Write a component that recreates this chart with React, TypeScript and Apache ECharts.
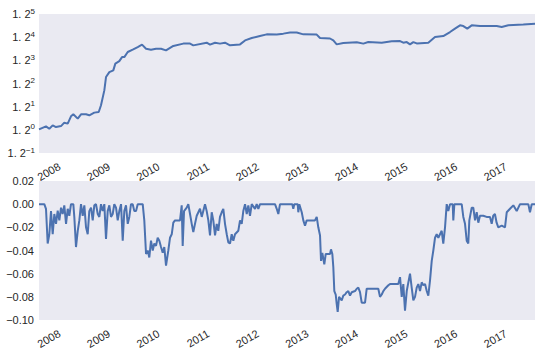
import React, { useEffect, useRef } from 'react';
import * as echarts from 'echarts';

// x values are decimal years
const X_MIN = 2007.536;
const X_MAX = 2017.536;
const yearTicks = [2008, 2009, 2010, 2011, 2012, 2013, 2014, 2015, 2016, 2017];

// cumulative growth of 1 (plotted on a base-1.2 log scale)
const LOG_BASE = 1.2;
const cumExponentTicks = [-1, 0, 1, 2, 3, 4, 5];
const cumulativePoints: [number, number][] = [
  [2007.536, 1.004], [2007.677, 1.028], [2007.744, 1.009], [2007.812, 1.036], [2007.879, 1.022],
  [2007.98, 1.03], [2008.046, 1.058], [2008.115, 1.05], [2008.181, 1.112], [2008.228, 1.13],
  [2008.317, 1.092], [2008.383, 1.13], [2008.484, 1.13], [2008.55, 1.121], [2008.651, 1.145],
  [2008.74, 1.151], [2008.786, 1.213], [2008.853, 1.364], [2008.887, 1.515], [2008.954, 1.575],
  [2009.034, 1.597], [2009.075, 1.684], [2009.155, 1.718], [2009.21, 1.773], [2009.256, 1.773],
  [2009.325, 1.845], [2009.425, 1.879], [2009.526, 1.918], [2009.613, 1.955], [2009.694, 1.893],
  [2009.794, 1.879], [2009.895, 1.893], [2009.996, 1.893], [2010.097, 1.869], [2010.244, 1.935],
  [2010.446, 1.971], [2010.581, 1.971], [2010.647, 1.944], [2010.917, 1.985], [2010.984, 1.955],
  [2011.085, 1.985], [2011.185, 1.971], [2011.286, 1.985], [2011.387, 1.944], [2011.589, 1.959],
  [2011.69, 2.021], [2011.825, 2.059], [2011.99, 2.092], [2012.127, 2.12], [2012.329, 2.116],
  [2012.462, 2.132], [2012.597, 2.151], [2012.732, 2.151], [2012.865, 2.12], [2013.135, 2.116],
  [2013.202, 2.059], [2013.403, 2.052], [2013.47, 2.021], [2013.538, 1.959], [2013.671, 1.981],
  [2013.942, 1.992], [2014.075, 1.971], [2014.175, 1.995], [2014.446, 1.985], [2014.647, 2.007],
  [2014.815, 2.011], [2014.881, 1.985], [2014.95, 1.995], [2015.016, 1.959], [2015.083, 1.995],
  [2015.151, 1.974], [2015.385, 1.985], [2015.52, 2.077], [2015.687, 2.092], [2015.823, 2.159],
  [2015.923, 2.217], [2016.024, 2.276], [2016.091, 2.263], [2016.171, 2.217], [2016.26, 2.276],
  [2016.427, 2.263], [2016.764, 2.263], [2016.865, 2.245], [2016.998, 2.276], [2017.3, 2.289],
  [2017.536, 2.306],
];

// drawdown
const drawdownTicks = [-0.1, -0.08, -0.06, -0.04, -0.02, 0, 0.02];
const drawdownPoints: [number, number][] = [
  [2007.536, 0], [2007.643, 0], [2007.677, -0.004], [2007.711, -0.034], [2007.744, -0.026],
  [2007.778, -0.006], [2007.812, -0.026], [2007.845, -0.0085], [2007.879, -0.017], [2007.913, -0.0056],
  [2007.946, -0.014], [2007.98, -0.003], [2008.013, -0.0085], [2008.046, -0.001], [2008.081, -0.017],
  [2008.115, -0.004], [2008.147, -0.01], [2008.181, 0], [2008.228, 0], [2008.248, -0.011],
  [2008.282, -0.037], [2008.317, -0.023], [2008.349, -0.014], [2008.383, 0], [2008.417, -0.01],
  [2008.45, -0.001], [2008.484, -0.02], [2008.518, -0.026], [2008.55, -0.006], [2008.585, -0.003],
  [2008.619, -0.014], [2008.651, -0.001], [2008.685, 0], [2008.72, -0.0085], [2008.752, -0.011],
  [2008.786, 0], [2008.82, -0.006], [2008.853, 0], [2008.887, -0.03], [2008.921, -0.006],
  [2008.954, -0.001], [2008.988, -0.011], [2009.022, -0.0085], [2009.054, 0], [2009.089, -0.003],
  [2009.123, -0.014], [2009.155, -0.006], [2009.19, 0], [2009.224, -0.0315], [2009.256, -0.006],
  [2009.29, -0.001], [2009.325, -0.017], [2009.357, -0.011], [2009.391, 0], [2009.425, 0],
  [2009.458, -0.006], [2009.492, -0.006], [2009.526, 0], [2009.627, 0], [2009.659, -0.014],
  [2009.694, -0.043], [2009.728, -0.04], [2009.76, -0.046], [2009.794, -0.0315], [2009.829, -0.04],
  [2009.861, -0.034], [2009.895, -0.036], [2009.929, -0.029], [2009.962, -0.0315], [2009.996, -0.037],
  [2010.03, -0.042], [2010.062, -0.037], [2010.097, -0.053], [2010.143, -0.04], [2010.177, -0.029],
  [2010.212, -0.026], [2010.244, -0.016], [2010.278, -0.014], [2010.379, -0.014], [2010.413, -0.001],
  [2010.433, -0.036], [2010.46, -0.006], [2010.514, -0.003], [2010.546, 0], [2010.581, -0.0085],
  [2010.615, -0.017], [2010.647, -0.024], [2010.681, -0.017], [2010.716, -0.01], [2010.782, -0.004],
  [2010.817, -0.011], [2010.883, 0], [2010.917, -0.006], [2010.95, -0.014], [2010.984, -0.027],
  [2011.018, -0.007], [2011.05, -0.014], [2011.085, -0.027], [2011.119, -0.017], [2011.151, -0.023],
  [2011.185, -0.011], [2011.22, -0.007], [2011.252, -0.004], [2011.286, -0.017], [2011.321, -0.026],
  [2011.353, -0.033], [2011.387, -0.034], [2011.421, -0.026], [2011.454, -0.0315], [2011.488, -0.026],
  [2011.554, -0.023], [2011.589, -0.014], [2011.623, -0.017], [2011.655, -0.006], [2011.69, 0],
  [2011.724, -0.0085], [2011.756, -0.001], [2011.79, -0.01], [2011.825, 0], [2011.891, -0.004],
  [2011.925, 0], [2011.958, -0.004], [2011.992, 0], [2012.294, 0], [2012.329, -0.004],
  [2012.361, -0.0085], [2012.395, 0], [2012.643, 0], [2012.663, -0.004], [2012.683, 0],
  [2012.752, 0], [2012.764, -0.007], [2012.784, 0], [2012.833, -0.007], [2012.865, -0.014],
  [2012.899, -0.0186], [2012.933, -0.014], [2013.1, -0.014], [2013.135, -0.011], [2013.167, -0.02],
  [2013.202, -0.027], [2013.222, -0.049], [2013.248, -0.042], [2013.288, -0.052], [2013.317, -0.043],
  [2013.403, -0.043], [2013.423, -0.039], [2013.45, -0.043], [2013.47, -0.0545], [2013.49, -0.075],
  [2013.518, -0.078], [2013.538, -0.086], [2013.558, -0.093], [2013.585, -0.08], [2013.639, -0.083],
  [2013.671, -0.079], [2013.706, -0.078], [2013.74, -0.076], [2013.772, -0.075], [2013.806, -0.079],
  [2013.841, -0.076], [2013.907, -0.075], [2013.942, -0.073], [2013.974, -0.072], [2014.008, -0.076],
  [2014.042, -0.085], [2014.109, -0.085], [2014.143, -0.073], [2014.377, -0.073], [2014.411, -0.08],
  [2014.446, -0.078], [2014.478, -0.075], [2014.512, -0.073], [2014.579, -0.07], [2014.613, -0.069],
  [2014.78, -0.069], [2014.815, -0.063], [2014.849, -0.08], [2014.881, -0.069], [2014.915, -0.092],
  [2014.95, -0.075], [2015.016, -0.06], [2015.05, -0.072], [2015.083, -0.083], [2015.117, -0.08],
  [2015.151, -0.072], [2015.183, -0.069], [2015.218, -0.075], [2015.252, -0.0675], [2015.284, -0.07],
  [2015.319, -0.069], [2015.353, -0.075], [2015.385, -0.079], [2015.419, -0.066], [2015.454, -0.049],
  [2015.486, -0.04], [2015.52, -0.029], [2015.554, -0.026], [2015.587, -0.029], [2015.621, -0.026],
  [2015.655, -0.023], [2015.687, -0.034], [2015.722, -0.02], [2015.756, 0], [2015.788, -0.006],
  [2015.823, 0], [2015.877, 0], [2015.889, -0.014], [2015.91, 0], [2016.058, 0],
  [2016.091, -0.011], [2016.125, -0.017], [2016.159, -0.0315], [2016.191, -0.034], [2016.212, -0.014],
  [2016.26, -0.003], [2016.292, -0.003], [2016.327, -0.014], [2016.361, -0.007], [2016.393, -0.016],
  [2016.427, -0.01], [2016.494, -0.01], [2016.56, -0.011], [2016.629, -0.011], [2016.663, -0.017],
  [2016.694, -0.01], [2016.728, -0.0085], [2016.762, -0.016], [2016.796, -0.02], [2016.865, -0.0186],
  [2016.931, -0.02], [2016.966, -0.007], [2017.032, -0.004], [2017.099, -0.001], [2017.167, -0.006],
  [2017.234, 0], [2017.401, 0], [2017.435, -0.007], [2017.47, 0], [2017.536, 0],
];

const FONT = '"Liberation Sans", Arial, Helvetica, sans-serif';
const TEXT = '#262626';
const LINE = '#4C72B0';
const BG = '#EAEAF2';
const MINUS = '\u2212';

function xAxisFor(gridIndex: number) {
  return {
    type: 'value',
    gridIndex,
    min: X_MIN,
    max: X_MAX,
    axisLine: { show: false },
    axisTick: { show: false, customValues: yearTicks },
    splitLine: { show: false },
    axisLabel: {
      customValues: yearTicks,
      rotate: 30,
      margin: 11,
      padding: [0, 3, 0, 0],
      color: TEXT,
      fontSize: 11,
      fontFamily: FONT,
      formatter: (v: number) => String(Math.round(v)),
    },
  };
}

export default function App() {
  const ref = useRef<HTMLDivElement>(null);
  useEffect(() => {
    if (!ref.current) return;
    const chart = echarts.init(ref.current, null, { renderer: 'svg' });
    const lnB = Math.log(LOG_BASE);
    const option: any = {
      animation: false,
      backgroundColor: '#ffffff',
      grid: [
        { left: 39, top: 14, width: 496, height: 139, show: true, backgroundColor: BG, borderWidth: 0, outerBoundsMode: 'none' },
        { left: 39, top: 181, width: 496, height: 139, show: true, backgroundColor: BG, borderWidth: 0, outerBoundsMode: 'none' },
      ],
      xAxis: [xAxisFor(0), xAxisFor(1)],
      yAxis: [
        {
          type: 'value',
          gridIndex: 0,
          min: cumExponentTicks[0],
          max: cumExponentTicks[cumExponentTicks.length - 1],
          interval: 1,
          axisLine: { show: false },
          axisTick: { show: false },
          splitLine: { show: false },
          axisLabel: {
            margin: 4,
            color: TEXT,
            fontFamily: FONT,
            formatter: (v: number) => {
              const e = Math.round(v);
              const s = e < 0 ? MINUS + Math.abs(e) : String(e);
              return `{b|1. 2}{s|${s}}`;
            },
            rich: {
              b: { fontSize: 11, lineHeight: 14, color: TEXT, fontFamily: FONT },
              s: { fontSize: 8, lineHeight: 14, verticalAlign: 'top', color: TEXT, fontFamily: FONT },
            },
          },
        },
        {
          type: 'value',
          gridIndex: 1,
          min: drawdownTicks[0],
          max: drawdownTicks[drawdownTicks.length - 1],
          interval: 0.02,
          axisLine: { show: false },
          axisTick: { show: false },
          splitLine: { show: false },
          axisLabel: {
            margin: 5,
            color: TEXT,
            fontSize: 11,
            fontFamily: FONT,
            formatter: (v: number) => {
              if (Math.abs(v) < 1e-9) return '0.00';
              const t = Math.abs(v).toFixed(2);
              return v < 0 ? MINUS + t : t;
            },
          },
        },
      ],
      series: [
        {
          type: 'line',
          xAxisIndex: 0,
          yAxisIndex: 0,
          data: cumulativePoints.map(([x, v]) => [x, Math.log(v) / lnB]),
          showSymbol: false,
          symbol: 'none',
          lineStyle: { color: LINE, width: 2 },
        },
        {
          type: 'line',
          xAxisIndex: 1,
          yAxisIndex: 1,
          data: drawdownPoints,
          showSymbol: false,
          symbol: 'none',
          lineStyle: { color: LINE, width: 2 },
        },
      ],
    };
    chart.setOption(option);
    return () => chart.dispose();
  }, []);
  return <div ref={ref} style={{ position: 'fixed', left: 0, top: 0, width: 545, height: 359 }} />;
}
